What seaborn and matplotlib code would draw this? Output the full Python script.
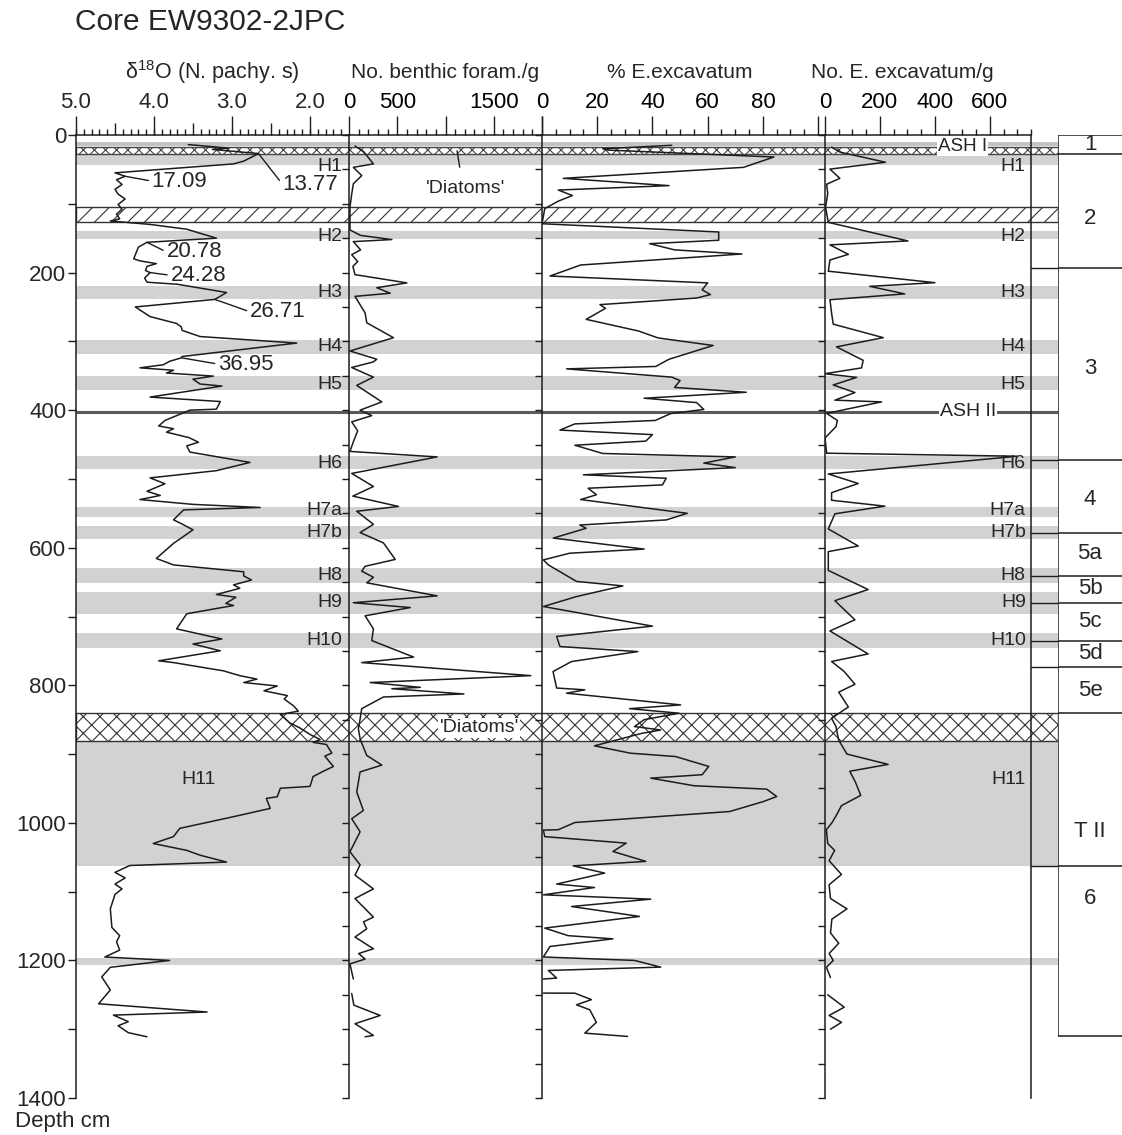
import numpy as np
import pandas as pd
import matplotlib
matplotlib.use("Agg")
import matplotlib.pyplot as plt
from matplotlib.patches import Rectangle
from matplotlib.ticker import FixedLocator, FixedFormatter, MultipleLocator, NullFormatter
import seaborn as sns

sns.set_theme(style="white")
plt.rcParams['font.family'] = ['Liberation Sans', 'DejaVu Sans']
plt.rcParams['mathtext.fontset'] = 'custom'
plt.rcParams['mathtext.rm'] = 'Liberation Sans'
plt.rcParams['mathtext.default'] = 'regular'
plt.rcParams['hatch.linewidth'] = 0.8

# ---------------- data ----------------
d18o_depth = [14, 19, 21, 27, 38, 42, 55, 60, 65, 72, 79, 86, 93, 101, 108, 115, 122, 125,
              130, 137, 150, 156, 163, 180, 183, 187, 191, 197, 200, 208, 214, 217, 229, 239,
              250, 264, 274, 279, 284, 293, 302.5, 322, 324, 329, 334, 338.5, 342, 346, 350.5,
              355, 362, 365, 381, 387.5, 398.6, 400, 415, 423, 427, 432, 440, 446.6, 452, 461,
              476, 488, 498.5, 507, 518, 524, 530, 537, 541.5, 545, 559.5, 565, 574, 593.7,
              615.6, 625, 635, 641, 647, 654, 659, 668, 672, 681, 684, 696, 718, 732.7, 740,
              749.8, 764.4, 767, 779, 786, 791, 796, 801, 808, 815, 820, 830, 837.6, 842.4,
              854.6, 862, 871.5, 878.8, 883, 886, 898.5, 903, 918, 925, 932.7, 947, 949.7, 962,
              964.5, 979, 991, 1008, 1020, 1030, 1040, 1047, 1057, 1062, 1072, 1080, 1089, 1096,
              1104, 1125, 1152, 1164, 1173, 1185, 1195, 1200, 1210, 1224, 1243, 1263, 1275,
              1279.5, 1289, 1295, 1305, 1311]
d18o_value = [3.56, 3.05, 3.25, 2.66, 2.85, 2.98, 4.50, 4.37, 4.48, 4.41, 4.50, 4.46, 4.37, 4.46,
              4.41, 4.48, 4.44, 4.56, 4.05, 3.58, 3.20, 4.09, 4.20, 4.26, 4.18, 3.97, 4.09, 4.11,
              4.05, 4.12, 4.09, 3.70, 3.07, 3.22, 4.24, 4.05, 3.71, 3.65, 3.64, 3.41, 2.17, 3.64,
              3.65, 3.80, 3.88, 4.18, 3.75, 3.84, 3.24, 3.50, 3.41, 3.13, 4.05, 3.15, 3.20, 3.54,
              3.86, 3.94, 3.75, 3.84, 3.55, 3.43, 3.58, 3.54, 2.77, 3.20, 4.05, 3.86, 4.09, 3.92,
              4.18, 3.50, 2.64, 3.62, 3.75, 3.65, 3.50, 3.75, 3.97, 3.75, 2.85, 2.85, 2.75, 2.98,
              2.90, 3.20, 2.95, 3.08, 2.98, 3.58, 3.71, 3.13, 3.50, 3.15, 3.94, 3.75, 3.11, 2.90,
              2.68, 2.85, 2.42, 2.59, 2.29, 2.33, 2.21, 2.15, 2.38, 2.26, 2.13, 2.00, 1.87, 1.96,
              1.79, 1.72, 1.81, 1.70, 1.83, 1.96, 2.00, 2.38, 2.42, 2.56, 2.51, 2.98, 3.67, 3.75,
              4.01, 3.58, 3.41, 3.07, 4.31, 4.50, 4.37, 4.50, 4.41, 4.50, 4.56, 4.54, 4.44, 4.48,
              4.44, 4.63, 3.80, 4.56, 4.67, 4.56, 4.71, 3.32, 4.52, 4.33, 4.46, 4.33, 4.09]

benthic_depth = [16, 24, 42, 47, 59, 71, 86, 105, 127, 138, 146, 152, 155, 167, 174, 184, 191,
                 203, 215, 222, 230, 234.6, 258.7, 273, 294.7, 314, 326, 330, 338, 352, 364, 388,
                 400, 408, 417, 430, 446, 460, 468, 492, 511, 525, 540, 547, 566, 578, 593, 617,
                 627, 634, 643, 651, 670, 680, 687, 699, 718, 735, 759, 767, 786, 796, 803, 805,
                 812.6, 817, 834, 849, 863, 878, 902, 916, 926, 955, 982, 994, 1013, 1042, 1061,
                 1076, 1096, 1110, 1137, 1144, 1154, 1166, 1183, 1190, 1198, 1205, 1227, 1237,
                 1248, 1265, 1280, 1292, 1309, 1311]
benthic_value = [62, 150, 253, 45, 132, 45, 28, 10, 10, 10, 120, 444, 45, 120, 28, 90, 40,
                 62, 600, 288, 427, 62, 167, 184, 461, 10, 288, 250, 28, 253, 80, 340,
                 115, 236, 28, 90, 45, 10, 913, 28, 253, 40, 513, 80, 253, 115, 357, 479,
                 167, 132, 253, 184, 913, 45, 635, 167, 253, 236, 670, 132, 1884, 219, 739, 444,
                 1190, 357, 132, 115, 97, 115, 184, 340, 115, 80, 149, 28, 115, 10, 115,
                 62, 253, 62, 253, 150, 184, 62, 253, 100, 167, 10, 45, np.nan,
                 28, 50, 323, 62, 253, 167]

excav_pct_depth = [15, 20, 22, 32, 47, 63, 73.6, 80, 88, 96, 107, 129, 141, 153, 158, 167, 173,
                   189, 205, 215, 225, 232, 237, 246.6, 252, 268, 285, 295, 306, 326, 336.5, 340,
                   352, 357, 367, 374, 382.7, 389, 399, 405, 415, 420, 429, 435.6, 445, 451, 463,
                   468, 477, 483.6, 494, 499, 508.7, 513.5, 523, 530, 550, 559.6, 567, 571.7, 586,
                   602, 608, 617.7, 625, 649, 655.5, 671, 685.5, 714, 729, 743.7, 751, 765.5, 780,
                   804, 806.6, 811.5, 828.5, 834, 840.6, 850, 860, 865, 870, 888, 898.7, 903.6,
                   918, 930, 935, 946, 951, 961.7, 969, 983.5, 999.5, 1010, 1010.5, 1020, 1029.5,
                   1041.6, 1056, 1062.5, 1073, 1089, 1094, 1104.6, 1110.9, 1121.6, 1136, 1153,
                   1164, 1168.6, 1179.7, 1195, 1200, 1209.7, 1214.6, 1225.7, 1227, 1237, 1247.5,
                   1247.6, 1257, 1264.5, 1271.8, 1290, 1305.7, 1310.5]
excav_pct_value = [47, 22, 24, 84, 73, 7.7, 46, 5.9, 11, 6, 1, 0, 64, 64, 39, 48, 72.4,
                   14, 2.9, 60, 58, 61, 56, 21, 23, 16, 35, 42, 62, 46, 41.2, 8.9,
                   47, 50, 48, 74, 37, 56, 58.6, 46.6, 41, 11.9, 6.5, 40, 37.6, 11.9, 22,
                   70, 58.6, 70, 15, 45, 43.6, 16.7, 19.7, 14, 52.6, 45, 13.7, 16, 4.1,
                   37, 10, 0.5, 2.3, 12.5, 29.3, 12.5, 0.5, 40, 5.3, 6.5, 34.7, 10.7, 4,
                   5.3, 15.5, 8.9, 50.2, 31.7, 49.6, 37, 33.5, 43, 36, 19, 32, 48.4,
                   60.4, 58, 39.4, 55, 81.4, 85, 80.2, 68, 11.9, 5.9, 0.5, 1, 30.5,
                   25.7, 37.6, 11.3, 22.7, 5.3, 19, 0.5, 39.4, 10.7, 35.3, 1,
                   9.5, 25.7, 2.9, 0.5, 33.5, 43, 2.3, 5.3, 0.5, np.nan, 0.5,
                   11.9, 17.9, 12.5, 17.3, 19.7, 15.5, 31]

excav_num_depth = [17.6, 24.8, 39.6, 49.6, 63, 71.6, 85, 105, 127, 154, 159.7, 173.5, 181.7, 198,
                   214.7, 220, 231, 239.5, 259, 275, 294.6, 308, 327.6, 338.6, 347, 352.4, 363.4,
                   374.4, 385.5, 388, 404.7, 415, 424, 440.5, 462.6, 467, 492.8, 506.6, 520, 531,
                   539.6, 550.7, 572.7, 597.5, 605.7, 633, 660.8, 677, 690, 704.8, 721, 754.4,
                   765.4, 780, 798.5, 810, 831.5, 848, 860, 880, 900, 915, 925, 940, 960, 975, 990,
                   1000, 1010, 1030, 1040, 1055, 1075, 1090, 1110, 1125, 1140, 1160, 1175, 1190,
                   1200, 1210, 1225, 1237, 1250, 1268, 1280, 1290, 1300]
excav_num_value = [24, 54, 220, 18, 54, 6, 10, 2, 12, 302, 18, 85, 18, 12,
                   400, 163, 290, 18, 24, 30, 212, 42, 139, 133, 0, 115, 30,
                   109, 36, 206, 6, 45, 40, 0, 6, 700, 12, 121, 24, 24,
                   218, 36, 12, 121, 12, 12, 157, 36, 70, 109, 18, 157,
                   24, 70, 109, 50, 85, 24, 40, 50, 80, 230, 90, 110, 130, 60, 40,
                   25, 5, 10, 35, 15, 60, 15, 20, 80, 25, 20, 50, 15,
                   30, 5, 20, np.nan, 10, 70, 15, 60, 20]

# Heinrich layers (grey bands) and their label depths
heinrich_names = ['H1', 'H2', 'H3', 'H4', 'H5', 'H6', 'H7a', 'H7b', 'H8', 'H9', 'H10', 'H11']
heinrich_top = [29, 139, 220, 298, 350, 466, 541, 568, 630, 664, 724, 881]
heinrich_bottom = [43, 151, 238, 319, 370, 486, 555, 587, 652, 696, 746, 1063]
heinrich_label_depth = [46, 147, 229, 308, 362, 477, 546, 578, 640, 680, 735, 937]

# isotope stage column
stage_edges = [0, 28, 193, 472, 578, 641, 680, 735, 773, 841, 1063, 1310]
stage_names = ['1', '2', '3', '4', '5a', '5b', '5c', '5d', '5e', 'T II', '6']
stage_label_depth = [14, 122, 340, 530, 609, 660, 707, 754, 807, 1012, 1110]

# age control points (ka) on the isotope curve
age_labels = ['13.77', '17.09', '20.78', '24.28', '26.71', '36.95']
age_point_depth = [27, 60, 156, 200, 239, 324]
age_point_d18o = [2.66, 4.37, 4.09, 4.05, 3.22, 3.645]
age_text_depth = [72, 67, 170, 204, 257, 333]
age_text_d18o = [2.35, 4.03, 3.84, 3.79, 2.77, 3.18]

# ---------------- layout ----------------
W, H = 1122, 1135
fig = plt.figure(figsize=(W / 100, H / 100), dpi=100)
Y0, Y1 = 135, 1098          # pixel rows of depth 0 and depth 1400
DMAX = 1400
INK = '#1c1c1c'
GREY = '#d2d2d2'


def add_ax(x0, x1, **kw):
    return fig.add_axes([x0 / W, 1 - Y1 / H, (x1 - x0) / W, (Y1 - Y0) / H], **kw)


X_P1, X_P2, X_P3, X_P4, X_P4R, X_BOX = 76, 349, 542, 825, 1031, 1058

bg = add_ax(X_P1, X_BOX, zorder=0)
bg.set_xlim(X_P1, X_BOX)
bg.set_ylim(DMAX, 0)
bg.axis('off')

full_w = X_BOX - X_P1
for t, b in zip(heinrich_top, heinrich_bottom):
    bg.add_patch(Rectangle((X_P1, t), full_w, b - t, facecolor=GREY, edgecolor='none'))
# thin grey layer at 1200 cm
bg.add_patch(Rectangle((X_P1, 1196), full_w, 10, facecolor=GREY, edgecolor='none'))
# ASH I
bg.add_patch(Rectangle((X_P1, 10), full_w, 6, facecolor='#c4c4c4', edgecolor='none'))
# upper diatom layer
bg.add_patch(Rectangle((X_P1, 17), full_w, 10, facecolor='white', edgecolor='#444',
                       hatch='xxx', lw=1.0))
# hatched interval
bg.add_patch(Rectangle((X_P1, 105), full_w, 22, facecolor='white', edgecolor='#333',
                       hatch='//', lw=1.0))
# lower diatom layer
bg.add_patch(Rectangle((X_P1, 841), full_w, 40, facecolor='white', edgecolor='#333',
                       hatch='xx', lw=1.0))
# ASH II
bg.plot([X_P1, X_BOX], [402, 402], color='#5a5a5a', lw=2.2, solid_capstyle='butt')
# leaders from the last panel to the stage column
for e in stage_edges[2:-1]:
    if e != 841:
        bg.plot([X_P4R, X_BOX], [e, e], color=INK, lw=1.0)

ax1 = add_ax(X_P1, X_P2, zorder=2)
ax2 = add_ax(X_P2, X_P3, zorder=2)
ax3 = add_ax(X_P3, X_P4, zorder=2)
ax4 = add_ax(X_P4, X_P4R, zorder=2)
axes = [ax1, ax2, ax3, ax4]


def frame(depth, value):
    df = pd.DataFrame({'depth': depth, 'value': value})
    df['seg'] = df['value'].isna().cumsum()
    return df.dropna()


series = [(ax1, d18o_depth, d18o_value), (ax2, benthic_depth, benthic_value),
          (ax3, excav_pct_depth, excav_pct_value), (ax4, excav_num_depth, excav_num_value)]
for ax, dd, vv in series:
    sns.lineplot(data=frame(dd, vv), x='value', y='depth', units='seg', estimator=None,
                 sort=False, orient='y', color=INK, lw=1.1, ax=ax, legend=False)

ax1.set_xlim(5.0, 1.5)
ax2.set_xlim(0, 2000)
ax3.set_xlim(0, 102.5)
ax4.set_xlim(0, 750)

LONG, MID, SHORT = 14, 8.5, 4.5
for ax in axes:
    ax.set_facecolor('none')
    ax.set_ylim(DMAX, 0)
    ax.set_xlabel('')
    ax.set_ylabel('')
    ax.patch.set_alpha(0)
    for s in ['bottom', 'right']:
        ax.spines[s].set_visible(False)
    for s in ['left', 'top']:
        ax.spines[s].set_color(INK)
        ax.spines[s].set_linewidth(1.1)
    ax.xaxis.set_ticks_position('top')
    ax.xaxis.set_label_position('top')
    ax.tick_params(axis='x', which='both', direction='out', color=INK, width=1.0,
                   labelsize=16, pad=2, labelcolor='black')
    ax.tick_params(axis='x', which='major', length=LONG)
    ax.tick_params(axis='x', which='minor', length=SHORT)
    ax.tick_params(axis='y', which='both', direction='out', color=INK, width=1.0, left=True)

ax4.spines['right'].set_visible(True)
ax4.spines['right'].set_color(INK)
ax4.spines['right'].set_linewidth(1.1)

# isotope panel: integers long, halves medium, tenths short
ax1.xaxis.set_major_locator(FixedLocator([4.5, 3.5, 2.5]))
ax1.xaxis.set_major_formatter(NullFormatter())
ax1.xaxis.set_minor_locator(FixedLocator(np.round(np.arange(1.6, 5.01, 0.1), 2)))
ax1.tick_params(axis='x', which='major', length=MID)
sec = ax1.secondary_xaxis('top')
sec.set_xticks([5.0, 4.0, 3.0, 2.0], labels=['5.0', '4.0', '3.0', '2.0'])
sec.tick_params(axis='x', direction='out', length=LONG, width=1.0, color=INK, labelsize=16, pad=2)
sec.spines['top'].set_visible(False)

ax2.xaxis.set_major_locator(FixedLocator([0, 500, 1000, 1500, 2000]))
ax2.xaxis.set_major_formatter(FixedFormatter(['0', '500', '', '1500', '']))
ax2.xaxis.set_minor_locator(MultipleLocator(100))

ax3.xaxis.set_major_locator(FixedLocator([0, 20, 40, 60, 80, 100]))
ax3.xaxis.set_major_formatter(FixedFormatter(['0', '20', '40', '60', '80', '']))
ax3.xaxis.set_minor_locator(MultipleLocator(5))

ax4.xaxis.set_major_locator(FixedLocator([0, 200, 400, 600]))
ax4.xaxis.set_major_formatter(FixedFormatter(['0', '200', '400', '600']))
ax4.xaxis.set_minor_locator(FixedLocator([50, 100, 150, 250, 300, 350, 450, 500, 550, 650, 700, 750]))

# depth axis
ax1.yaxis.set_major_locator(MultipleLocator(200))
ax1.yaxis.set_minor_locator(MultipleLocator(100))
ax1.tick_params(axis='y', which='both', length=6, labelsize=16, pad=1)
for ax in [ax2, ax3, ax4]:
    ax.yaxis.set_major_locator(MultipleLocator(50))
    ax.yaxis.set_major_formatter(NullFormatter())
    ax.tick_params(axis='y', which='major', length=5)

# Heinrich labels
for name, d in zip(heinrich_names, heinrich_label_depth):
    if name == 'H11':
        ax1.text(0.45, d, name, transform=ax1.get_yaxis_transform(), ha='center',
                 va='center', fontsize=14)
    else:
        ax1.text(0.975, d, name, transform=ax1.get_yaxis_transform(), ha='right',
                 va='center', fontsize=14)
    ax4.text(0.975, d, name, transform=ax4.get_yaxis_transform(), ha='right',
             va='center', fontsize=14)

# ages on the isotope curve
for lab, pd_, px, td, tx in zip(age_labels, age_point_depth, age_point_d18o,
                                age_text_depth, age_text_d18o):
    ax1.annotate(lab, xy=(px, pd_), xytext=(tx, td), ha='left', va='center', fontsize=16,
                 arrowprops=dict(arrowstyle='-', color=INK, lw=1.0, shrinkA=0, shrinkB=0,
                                 relpos=(0, 0.5)))

# layer annotations
white = dict(facecolor='white', edgecolor='none', pad=0.8)
ax4.text(500, 16, 'ASH I', ha='center', va='center', fontsize=13.5, bbox=white, zorder=2.2)
ax4.text(520, 402, 'ASH II', ha='center', va='center', fontsize=14, bbox=white, zorder=2.2)
ax2.annotate("'Diatoms'", xy=(1120, 23), xytext=(1210, 78), ha='center', va='center',
             fontsize=14, arrowprops=dict(arrowstyle='-', color=INK, lw=1.0, shrinkA=7,
                                          shrinkB=0, relpos=(0.45, 1.0)))
ax2.text(1350, 862, "'Diatoms'", ha='center', va='center', fontsize=14, bbox=white, zorder=2.2)

# isotope stage column
st = fig.add_axes([X_BOX / W, 1 - Y1 / H, (1180 - X_BOX) / W, (Y1 - Y0) / H], zorder=1)
st.set_xlim(0, 1)
st.set_ylim(DMAX, 0)
st.axis('off')
st.plot([0, 0], [stage_edges[0], stage_edges[-1]], color=INK, lw=1.1)
for e in stage_edges:
    st.plot([0, 1], [e, e], color=INK, lw=1.1)
for name, d in zip(stage_names, stage_label_depth):
    st.text(32 / 122, d, name, ha='center', va='center', fontsize=16)

# titles
fig.text(75 / W, 1 - 22 / H, 'Core EW9302-2JPC', ha='left', va='center', fontsize=21.5)
head_y = 1 - 72 / H
fig.text(212 / W, head_y, r'δ$^{18}$O (N. pachy. s)', ha='center', va='center', fontsize=15.5)
fig.text(445 / W, head_y, 'No. benthic foram./g', ha='center', va='center', fontsize=15)
fig.text(680 / W, head_y, '% E.excavatum', ha='center', va='center', fontsize=15)
fig.text(902 / W, head_y, 'No. E. excavatum/g', ha='center', va='center', fontsize=15)
fig.text(15 / W, 1 - 1122 / H, 'Depth cm', ha='left', va='center', fontsize=16)

fig.savefig('out.png', dpi=100)
